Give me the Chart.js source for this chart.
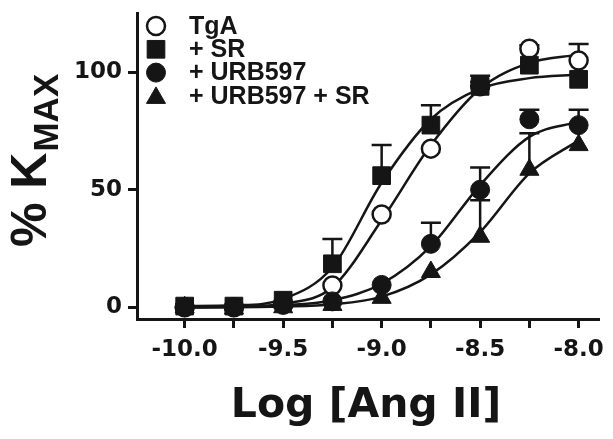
<!DOCTYPE html>
<html>
<head>
<meta charset="utf-8">
<script src="https://cdn.jsdelivr.net/npm/chart.js@4.4.1/dist/chart.umd.min.js"></script>
<style>
  html, body { margin: 0; padding: 0; background: #fff; }
  #wrap { width: 613px; height: 439px; }
</style>
</head>
<body>
<div id="wrap"><canvas id="c" width="613" height="439"></canvas></div>
<script>
// x positions: log [Ang II]
const logAng = [-10, -9.75, -9.5, -9.25, -9, -8.75, -8.5, -8.25, -8];
const seriesNames = ["TgA", "+ SR", "+ URB597", "+ URB597 + SR"];

// means (% Kmax)
const tgaMean = [0, 0, 1.5, 9.3, 39.5, 67.5, 94, 110, 105];
const srMean = [0.5, 0.5, 3, 18.5, 56, 77.5, 94, 103, 97];
const urbMean = [0, 0, 1, 2.5, 9.5, 27, 50, 80, 77.5];
const urbSrMean = [0, -0.5, 0, 1, 4, 15, 30, 58.5, 69];

// upper error bars (SEM)
const tgaErr = [0, 0, 0, 0, 0, 0, 2, 1.5, 7];
const srErr = [0, 0, 0, 10.5, 13, 8.5, 4.5, 0, 0];
const urbErr = [0, 0, 0, 0, 0, 9, 9.5, 4, 6.5];
const urbSrErr = [0, 0, 0, 0, 0, 0, 15.5, 15.5, 0];

// fitted curves at the same x positions
const tgaFit = [0, 0.2, 1.5, 8.5, 37, 69, 93, 104, 107.5];
const srFit = [0.5, 0.8, 3.5, 17, 53, 80, 93, 97.5, 99];
const urbFit = [0, 0.2, 0.8, 3, 10, 26, 52, 72.5, 79];
const urbSrFit = [0, 0, 0.3, 1.2, 4.5, 14, 32, 57, 71];

const xTicks = [-10, -9.75, -9.5, -9.25, -9, -8.75, -8.5, -8.25, -8];
const yTicks = [0, 50, 100];

const ink = "#151515";
const axisFont = "'DejaVu Sans', sans-serif";
const textFont = "'Liberation Sans', Arial, sans-serif";

const looks = [
  { style: "circle", fill: "#fff", radius: 9, border: 2.5, order: 4 },
  { style: "rect", fill: ink, radius: 12.5, border: 1, order: 3 },
  { style: "circle", fill: ink, radius: 9.5, border: 1, order: 2 },
  { style: "triangle", fill: ink, radius: 11, border: 1, order: 1 },
];
const means = [tgaMean, srMean, urbMean, urbSrMean];
const errs = [tgaErr, srErr, urbErr, urbSrErr];
const fits = [tgaFit, srFit, urbFit, urbSrFit];

const datasets = [];
fits.forEach((fit, k) => {
  datasets.push({
    label: seriesNames[k] + " fit",
    data: logAng.map((x, i) => ({ x: x, y: fit[i] })),
    borderColor: ink,
    borderWidth: 2.5,
    pointRadius: 0,
    cubicInterpolationMode: "monotone",
    fill: false,
    order: 10,
  });
});
means.forEach((m, k) => {
  datasets.push({
    label: seriesNames[k],
    data: logAng.map((x, i) => ({ x: x, y: m[i] })),
    showLine: false,
    pointStyle: looks[k].style,
    pointRadius: looks[k].radius,
    pointBackgroundColor: looks[k].fill,
    pointBorderColor: ink,
    pointBorderWidth: looks[k].border,
    order: looks[k].order,
    errs: errs[k],
  });
});

const errorBars = {
  id: "errorBars",
  beforeDatasetsDraw(chart) {
    const ctx = chart.ctx;
    const yS = chart.scales.y;
    ctx.save();
    ctx.strokeStyle = ink;
    ctx.lineWidth = 2.5;
    chart.data.datasets.forEach((ds, di) => {
      if (!ds.errs) return;
      chart.getDatasetMeta(di).data.forEach((pt, i) => {
        const e = ds.errs[i];
        if (!(e > 0)) return;
        const top = yS.getPixelForValue(ds.data[i].y + e);
        ctx.beginPath();
        ctx.moveTo(pt.x, pt.y);
        ctx.lineTo(pt.x, top);
        ctx.moveTo(pt.x - 10, top);
        ctx.lineTo(pt.x + 10, top);
        ctx.stroke();
      });
    });
    ctx.restore();
  },
};

const legendAndTitles = {
  id: "legendAndTitles",
  afterDraw(chart) {
    const ctx = chart.ctx;
    ctx.save();
    // legend
    ctx.font = "bold 25px " + textFont;
    ctx.textBaseline = "middle";
    ctx.textAlign = "left";
    seriesNames.forEach((name, i) => {
      const y = 26 + i * 23.3;
      ctx.fillStyle = looks[i].fill;
      ctx.strokeStyle = ink;
      ctx.lineWidth = looks[i].border;
      Chart.helpers.drawPoint(ctx, {
        pointStyle: looks[i].style,
        radius: looks[i].radius,
        borderWidth: looks[i].border,
        rotation: 0,
      }, 156, looks[i].style === "triangle" ? y + 2 : y);
      ctx.fillStyle = ink;
      ctx.fillText(name, 189, y + 1);
    });

    // x title
    ctx.fillStyle = ink;
    ctx.textAlign = "center";
    ctx.textBaseline = "alphabetic";
    ctx.font = "bold 41px " + axisFont;
    ctx.fillText("Log [Ang II]", 366, 417);

    // y title with subscript
    ctx.translate(46, 247);
    ctx.rotate(-Math.PI / 2);
    ctx.textAlign = "left";
    ctx.font = "bold 50px " + textFont;
    ctx.fillText("% K", 0, 0);
    const w = ctx.measureText("% K").width;
    ctx.font = "bold 35px " + textFont;
    ctx.fillText("MAX", w + 1, 12);
    ctx.restore();
  },
};

new Chart(document.getElementById("c"), {
  type: "line",
  data: { datasets: datasets },
  options: {
    responsive: false,
    animation: false,
    events: [],
    layout: { padding: { left: 0, right: 11, top: 10, bottom: 0 } },
    plugins: { legend: { display: false }, tooltip: { enabled: false } },
    scales: {
      x: {
        type: "linear",
        min: -10.242,
        max: -7.894,
        afterBuildTicks: (s) => { s.ticks = xTicks.map((v) => ({ value: v })); },
        afterFit: (s) => { s.height = 120; s.paddingLeft = 0; s.paddingRight = 0; },
        ticks: {
          color: ink,
          padding: 8,
          autoSkip: false,
          maxRotation: 0,
          minRotation: 0,
          font: { family: axisFont, size: 23, weight: "bold" },
          callback: (v) => (Math.abs(v * 2 - Math.round(v * 2)) < 1e-6 ? v.toFixed(1) : ""),
        },
        grid: { drawOnChartArea: false, drawTicks: true, tickLength: 9, tickWidth: 3, tickColor: ink },
        border: { display: true, width: 3, color: ink },
      },
      y: {
        min: -5,
        max: 125,
        afterBuildTicks: (s) => { s.ticks = yTicks.map((v) => ({ value: v })); },
        afterFit: (s) => { s.width = 137; s.paddingTop = 0; s.paddingBottom = 0; },
        ticks: {
          color: ink,
          padding: 6,
          font: { family: axisFont, size: 23, weight: "bold" },
        },
        grid: { drawOnChartArea: false, drawTicks: true, tickLength: 9, tickWidth: 3, tickColor: ink },
        border: { display: true, width: 3, color: ink },
      },
    },
  },
  plugins: [errorBars, legendAndTitles],
});
</script>
</body>
</html>
